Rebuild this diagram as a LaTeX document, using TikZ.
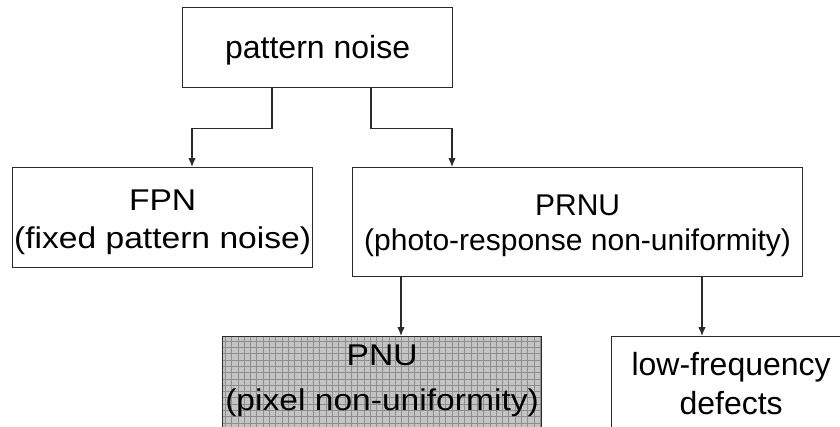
\documentclass[tikz,border=0pt]{standalone}
\usepackage{fontspec}
\setmainfont{Liberation Sans}
\newfontfamily\widesans{Liberation Sans}[FakeStretch=1.12]
\usetikzlibrary{arrows.meta,calc}
\definecolor{linec}{HTML}{2A2A2A}
\definecolor{pnufill}{HTML}{C4C4C4}
\definecolor{pnugrid}{HTML}{8E8E8E}
\tikzset{
  box/.style={draw=linec, line width=1.2pt, fill=white, anchor=north west,
    align=center, inner sep=0pt, text=black},
  arr/.style={draw=linec, line width=1.2pt, -{Latex[length=9pt,width=7.5pt]}},
  gridfill/.style={fill=pnufill, path picture={
    \draw[pnugrid, line width=0.7pt]
      ([xshift=-1pt,yshift=-1pt]path picture bounding box.south west)
      grid[step=6.3pt]
      ([xshift=1pt,yshift=1pt]path picture bounding box.north east);}}
}
\begin{document}
\begin{tikzpicture}[x=1pt,y=-1pt]
\useasboundingbox (0,0) rectangle (840,426);
\clip (0,0) rectangle (840,426);

\node[box, minimum width=270pt, minimum height=80pt,
      font=\fontsize{32}{36}\selectfont] (pn) at (182,7)
  {\rule{0pt}{29pt}pattern noise};

\node[box, minimum width=300pt, minimum height=100pt,
      font=\widesans\fontsize{30}{38}\selectfont] (fpn) at (12,167)
  {\rule{0pt}{30pt}FPN\\(fixed pattern noise)};

\node[box, minimum width=450pt, minimum height=109pt,
      font=\fontsize{30}{35}\selectfont] (prnu) at (352,167)
  {\rule{0pt}{28pt}PRNU\\(photo-response non-uniformity)};

\node[box, gridfill, minimum width=319pt, minimum height=94pt,
      font=\widesans\fontsize{30}{45}\selectfont] (pnu) at (222,336)
  {PNU\\(pixel non-uniformity)\rule[-12pt]{0pt}{12pt}};

\node[box, minimum width=239pt, minimum height=94pt,
      font=\fontsize{32}{39}\selectfont] (lf) at (611,336)
  {low-frequency\\defects};

% connectors
\draw[arr] ([xshift=90pt]pn.south west) -- ++(0,-40pt)
  -| ([xshift=180pt]fpn.north west);
\draw[arr] ([xshift=189pt]pn.south west) -- ++(0,-40pt)
  -| ([xshift=100pt]prnu.north west);
\coordinate (s1) at ([xshift=49pt]prnu.south west);
\coordinate (s2) at ([xshift=350pt]prnu.south west);
\draw[arr] (s1) -- (s1 |- pnu.north);
\draw[arr] (s2) -- (s2 |- lf.north);
\end{tikzpicture}
\end{document}
